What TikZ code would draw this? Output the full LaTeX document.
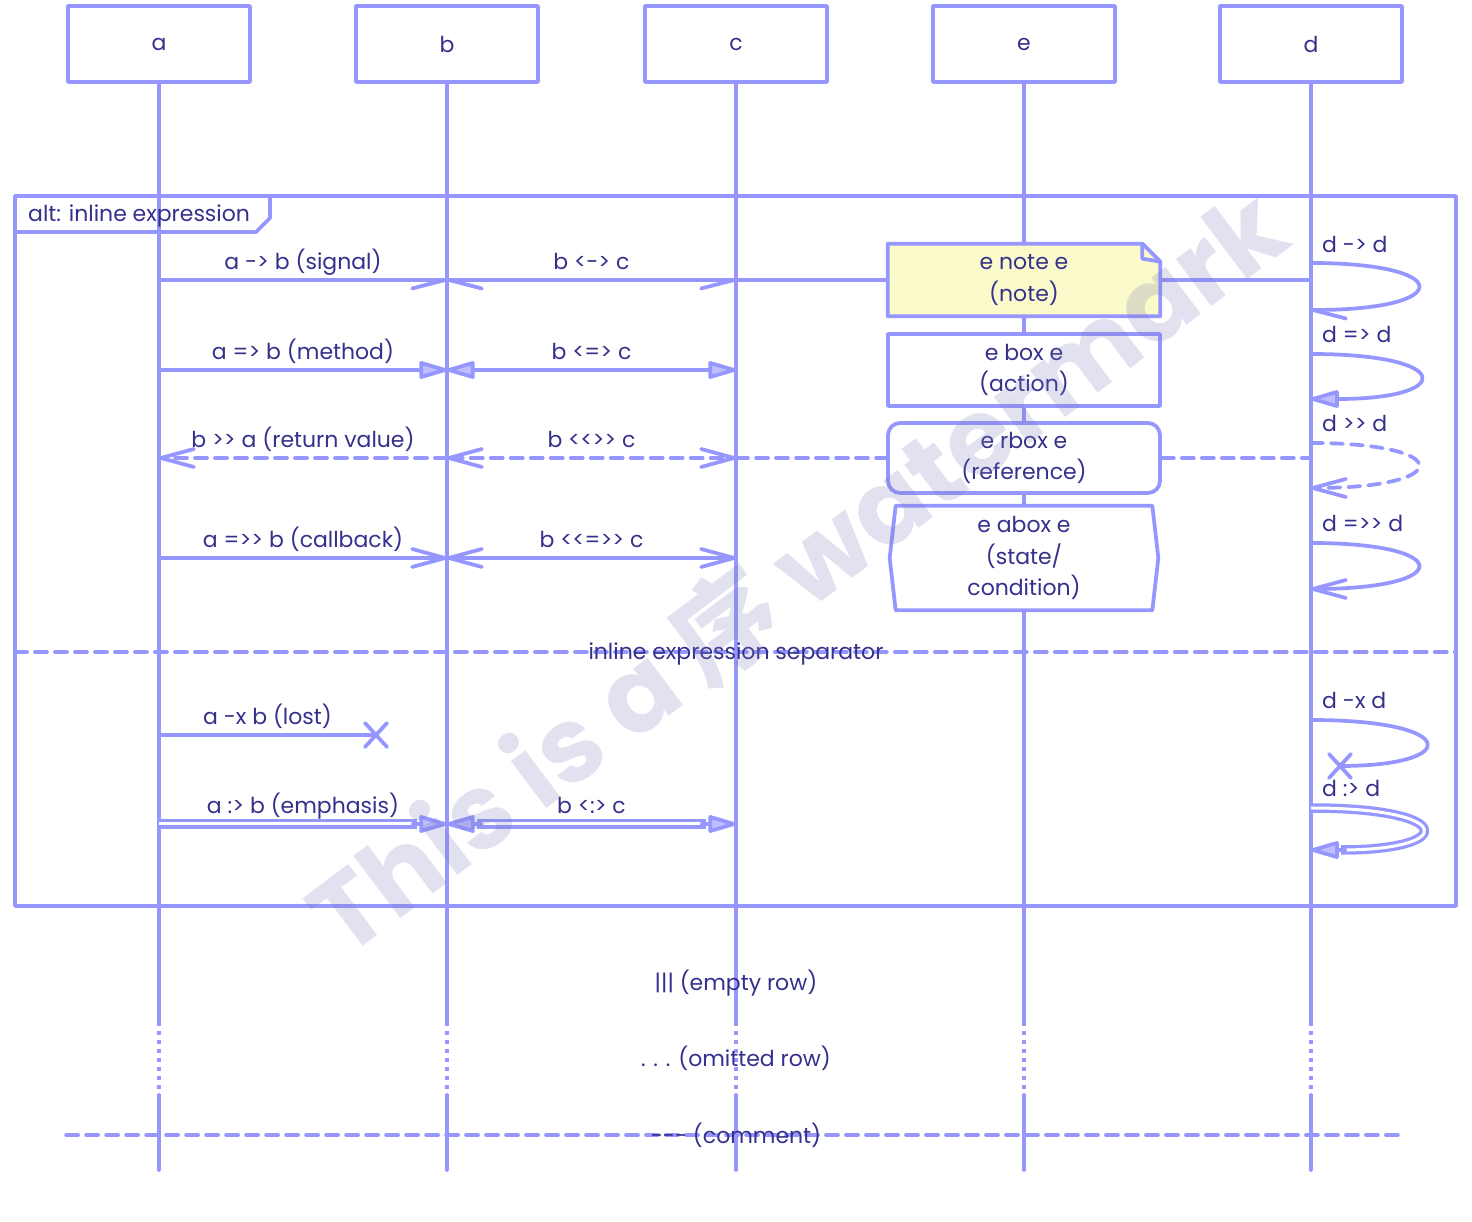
\documentclass[tikz,border=0pt]{standalone}
\usepackage{fontspec}
\setmainfont{Poppins}[Ligatures=TeXOff]
\newfontfamily\cjkfont{Noto Sans CJK SC}
\usetikzlibrary{arrows.meta,calc}
\definecolor{ln}{RGB}{150,150,255}
\definecolor{lnfill}{RGB}{190,190,255}
\definecolor{txt}{RGB}{52,48,140}
\definecolor{notefill}{RGB}{250,250,202}
\definecolor{wmark}{RGB}{120,120,185}
\tikzset{
  sig/.tip={Straight Barb[harpoon,swap,length=0.66cm,width=0.34cm,round]},
  sigl/.tip={Straight Barb[harpoon,length=0.66cm,width=0.34cm,round]},
  opn/.tip={Straight Barb[length=0.66cm,width=0.36cm,round]},
  tri/.tip={Triangle[length=0.66cm,width=0.36cm,fill=lnfill,round]},
}
\begin{document}
\begin{tikzpicture}[x=0.02cm, y=-0.02cm,
  every node/.style={text=txt, font=\fontsize{12.5}{18}\selectfont},
  line/.style={draw=ln, line width=0.075cm, line cap=round, line join=round},
  dashln/.style={dash pattern=on 0.24cm off 0.16cm},
  dotln/.style={line cap=butt, dash pattern=on 0.08cm off 0.1cm},
  emph/.style={line, line width=0.065cm, line cap=butt, double=white, double distance=0.06cm},
  actor/.style={line, fill=white, minimum width=3.64cm, minimum height=1.52cm},
  ebox/.style={fill=white, minimum width=5.44cm, minimum height=1.44cm, align=center, inner sep=0pt},
  lbl/.style={midway, anchor=base, yshift=0.2cm},
  loopl/.style={anchor=base west}]
\useasboundingbox (0,0) rectangle (1472,1222);

% rows
\coordinate (r1) at (0,280);
\coordinate (r2) at (0,370);
\coordinate (r3) at (0,458);
\coordinate (r4) at (0,558);
\coordinate (sep) at (0,652);
\coordinate (r6) at (0,735);
\coordinate (r7) at (0,824);
\coordinate (om1) at (0,1022);
\coordinate (om2) at (0,1095);
\coordinate (cm) at (0,1135);
\coordinate (fin) at (0,1170);

% entities
\foreach \n/\x in {a/159,b/447,c/736,e/1024,d/1311}{
  \node[actor] (\n) at (\x,44) {\n};
  \draw[line] (\n.south) -- (\n|-om1);
  \draw[line, dotln] (\n|-om1) -- (\n|-om2);
  \draw[line] (\n|-om2) -- (\n|-fin);
}

% alt frame
\coordinate (fnw) at (15,196);
\coordinate (fse) at (1456,906);
\draw[line] (fnw) rectangle (fse);
\draw[line] ($(fnw)+(0,36)$) -- ($(fnw)+(241,36)$) -- ($(fnw)+(255,22)$) -- ($(fnw)+(255,0)$);
\node[anchor=base west] (altlbl) at ($(fnw)+(7,26)$) {alt: inline expression};

% boxes on e
\node[ebox, fill=notefill] (note) at (e|-r1) {e note e\\(note)};
\fill[white] ($(note.north east)+(-18,0)$) -- (note.north east) -- ($(note.north east)+(0,18)$) -- cycle;
\draw[line] (note.north west) -- ($(note.north east)+(-18,0)$) -- ($(note.north east)+(0,18)$)
  -- (note.south east) -- (note.south west) -- cycle;
\draw[line] ($(note.north east)+(-18,0)$) -- ($(note.north east)+(-18,15)$) -- ($(note.north east)+(0,18)$);
\node[ebox, line] (box) at (e|-r2) {e box e\\(action)};
\node[ebox, line, rounded corners=0.24cm, minimum height=1.4cm] (rbox) at (e|-r3) {e rbox e\\(reference)};
\node[ebox, minimum height=2.08cm, minimum width=5.36cm] (abox) at (e|-r4) {e abox e\\(state/\\condition)};
\draw[line] ($(abox.north west)+(6,0)$) -- ($(abox.north east)+(-6,0)$) -- (abox.east)
  -- ($(abox.south east)+(-6,0)$) -- ($(abox.south west)+(6,0)$) -- (abox.west) -- cycle;

% row 1
\draw[line,-{sig}] (a|-r1) -- (b|-r1) node[lbl] {a -> b (signal)};
\draw[line,{sigl}-{sig}] (b|-r1) -- (c|-r1) node[lbl] {b <-> c};
\draw[line] (c|-r1) -- (note.west);
\draw[line] (note.east) -- (d|-r1);

% row 2
\draw[line,-{tri}] (a|-r2) -- (b|-r2) node[lbl] {a => b (method)};
\draw[line,{tri}-{tri}] (b|-r2) -- (c|-r2) node[lbl] {b <=> c};

% row 3
\draw[line,dashln,-{opn}] (b|-r3) -- (a|-r3) node[lbl] {b >> a (return value)};
\draw[line,dashln,{opn}-{opn}] (b|-r3) -- (c|-r3) node[lbl] {b <<>> c};
\draw[line,dashln] (c|-r3) -- (rbox.west);
\draw[line,dashln] (rbox.east) -- (d|-r3);

% row 4
\draw[line,-{opn}] (a|-r4) -- (b|-r4) node[lbl] {a =>> b (callback)};
\draw[line,{opn}-{opn}] (b|-r4) -- (c|-r4) node[lbl] {b <<=>> c};

% separator
\draw[line,dashln] (fnw|-sep) -- (fse|-sep);
\node[anchor=base] (seplbl) at ($(c|-sep)+(0,8)$) {inline expression separator};

% row 6
\coordinate (lost) at ($(a|-r6)+(217,0)$);
\draw[line] (a|-r6) -- (lost) node[lbl] {a -x b (lost)};
\draw[line] ($(lost)+(-11,-12)$) -- ($(lost)+(11,12)$) ($(lost)+(-11,12)$) -- ($(lost)+(11,-12)$);

% row 7
\draw[emph, shorten >=0.6cm] (a|-r7) -- (b|-r7) node[lbl] {a :> b (emphasis)};
\draw[line,-{tri}] ($(b|-r7)+(-34,0)$) -- (b|-r7);
\draw[emph, shorten <=0.6cm, shorten >=0.6cm] (b|-r7) -- (c|-r7) node[lbl] {b <:> c};
\draw[line,-{tri}] ($(b|-r7)+(34,0)$) -- (b|-r7);
\draw[line,-{tri}] ($(c|-r7)+(-34,0)$) -- (c|-r7);

% self messages on d
\coordinate (s1a) at (0,263); \coordinate (s1b) at (0,310);
\coordinate (s2a) at (0,354); \coordinate (s2b) at (0,399);
\coordinate (s3a) at (0,443); \coordinate (s3b) at (0,488);
\coordinate (s4a) at (0,543); \coordinate (s4b) at (0,589);
\coordinate (s5a) at (0,720);
\coordinate (s6a) at (0,808); \coordinate (s6b) at (0,850);
\draw[line,-{sigl}] (d|-s1a) .. controls +(144,0) and +(144,0) .. (d|-s1b);
\node[loopl] (ls1) at ($(d|-s1a)+(5,-10)$) {d -> d};
\draw[line,-{tri}] (d|-s2a) .. controls +(144,0) and +(144,0) .. (d|-s2b);
\node[loopl] (ls2) at ($(d|-s2a)+(5,-11)$) {d => d};
\draw[line,dashln,-{opn}] (d|-s3a) .. controls +(144,0) and +(144,0) .. (d|-s3b);
\node[loopl] (ls3) at ($(d|-s3a)+(5,-11)$) {d >> d};
\draw[line,-{opn}] (d|-s4a) .. controls +(144,0) and +(144,0) .. (d|-s4b);
\node[loopl] (ls4) at ($(d|-s4a)+(5,-11)$) {d =>> d};
\coordinate (dlost) at ($(d|-s5a)+(29,46)$);
\draw[line] (d|-s5a) .. controls +(150,0) and +(122,0) .. (dlost);
\draw[line] ($(dlost)+(-11,-12)$) -- ($(dlost)+(11,12)$) ($(dlost)+(-11,12)$) -- ($(dlost)+(11,-12)$);
\node[loopl] (ls5) at ($(d|-s5a)+(5,-11)$) {d -x d};
\draw[emph, shorten >=0.6cm] (d|-s6a) .. controls +(146,0) and +(146,0) .. (d|-s6b);
\draw[line,-{tri}] ($(d|-s6b)+(34,0)$) -- (d|-s6b);
\node[loopl] (ls6) at ($(d|-s6a)+(5,-11)$) {d :> d};

% empty / omitted / comment rows
\node (empty) at (c|-0,983) {||| (empty row)};
\node (omit) at (c|-0,1058) {. . . (omitted row)};
\draw[line,dashln] (a.west|-cm) -- (d.east|-cm);
\node (cmt) at (c|-cm) {-{}-{}- (comment)};

% watermark
\node[rotate=37, opacity=0.22, text=wmark, font=\fontsize{60}{60}\selectfont\bfseries] (wm)
  at (796,570) {This is a {\cjkfont 序} watermark};
\end{tikzpicture}
\end{document}
